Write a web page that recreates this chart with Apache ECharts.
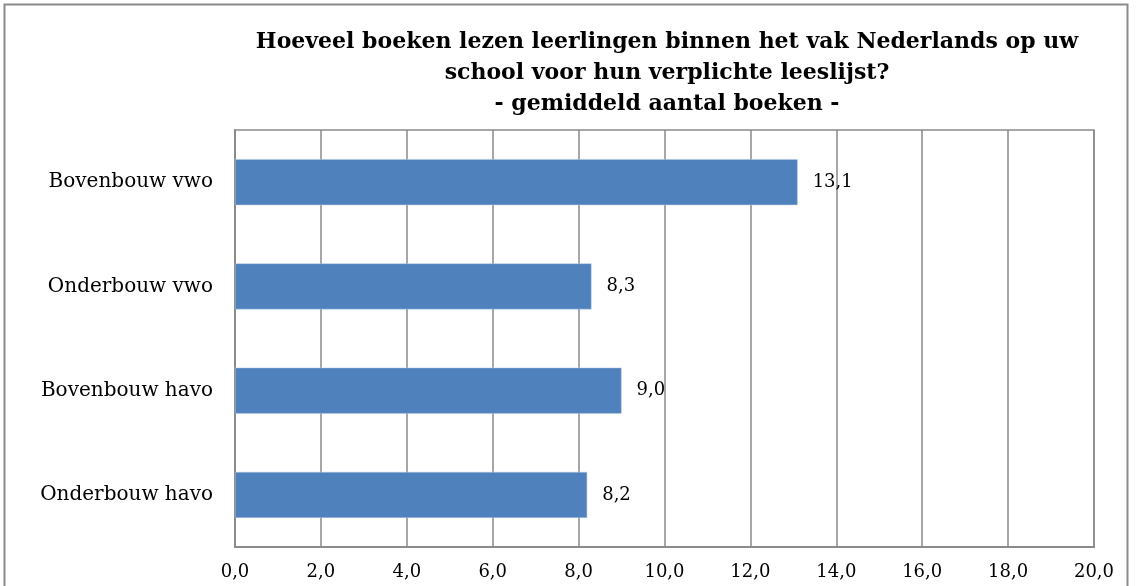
<!DOCTYPE html>
<html>
<head>
<meta charset="utf-8">
<script src="https://cdn.jsdelivr.net/npm/echarts@6/dist/echarts.min.js"></script>
<style>
  html, body { margin: 0; padding: 0; background: #fff; }
  #chart { width: 1136px; height: 586px; }
</style>
</head>
<body>
<div id="chart"></div>
<script>
// categories bottom to top (as drawn by ECharts on a y category axis)
const categories = ["Onderbouw havo", "Bovenbouw havo", "Onderbouw vwo", "Bovenbouw vwo"];
const values = [8.2, 9.0, 8.3, 13.1];
const titleLines = [
  "Hoeveel boeken lezen leerlingen binnen het vak Nederlands op uw",
  "school voor hun verplichte leeslijst?",
  "- gemiddeld aantal boeken -"
];

const fmt = (v) => v.toFixed(1).replace(".", ",");
const serif = "DejaVu Serif";

const chart = echarts.init(document.getElementById("chart"), null, { renderer: "canvas" });

chart.setOption({
  animation: false,
  backgroundColor: "#fff",
  title: {
    text: titleLines.join("\n"),
    left: 662,
    top: 22,
    textAlign: "center",
    textStyle: {
      fontFamily: serif,
      fontWeight: "bold",
      fontSize: 22,
      lineHeight: 31,
      color: "#000"
    }
  },
  graphic: [{
    type: "rect",
    shape: { x: 4.5, y: 4.5, width: 1123, height: 600 },
    style: { fill: "none", stroke: "#8a8a8a", lineWidth: 2 },
    silent: true
  }],
  grid: {
    left: 235,
    top: 130,
    right: 1136 - 1094,
    bottom: 586 - 547,
    show: true,
    borderColor: "#8a8a8a",
    borderWidth: 1.5
  },
  xAxis: {
    type: "value",
    min: 0,
    max: 20,
    interval: 2,
    axisLine: { show: true, lineStyle: { color: "#8a8a8a", width: 2 } },
    axisTick: { show: false },
    splitLine: { show: true, lineStyle: { color: "#8a8a8a", width: 1.5 } },
    axisLabel: {
      formatter: (v) => fmt(v),
      fontFamily: serif,
      fontSize: 18,
      color: "#000",
      margin: 16
    }
  },
  yAxis: {
    type: "category",
    data: categories,
    axisLine: { show: true, lineStyle: { color: "#8a8a8a", width: 2 } },
    axisTick: { show: false },
    splitLine: { show: false },
    axisLabel: {
      fontFamily: serif,
      fontSize: 20,
      color: "#000",
      margin: 22
    }
  },
  series: [{
    type: "bar",
    data: values,
    barWidth: 46,
    itemStyle: { color: "#4f81bd", borderColor: "#b9cde5", borderWidth: 0.5 },
    label: {
      show: true,
      position: "right",
      distance: 15,
      formatter: (p) => fmt(p.value),
      fontFamily: serif,
      fontSize: 18,
      color: "#000"
    }
  }]
});
</script>
</body>
</html>
